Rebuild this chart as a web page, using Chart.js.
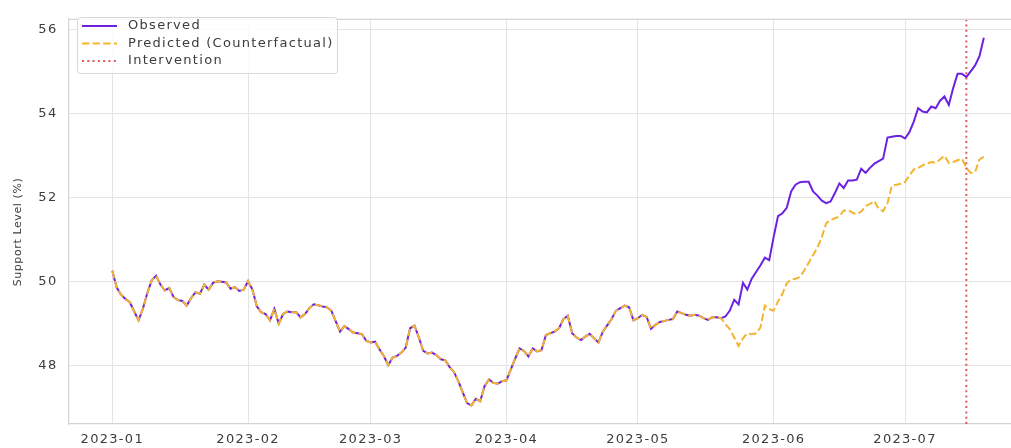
<!DOCTYPE html>
<html>
<head>
<meta charset="utf-8">
<script src="https://cdn.jsdelivr.net/npm/chart.js@4.4.1/dist/chart.umd.min.js"></script>
<style>
  html, body { margin: 0; padding: 0; background: #ffffff; overflow: hidden; }
  #wrap { width: 1011px; height: 448px; }
</style>
</head>
<body>
<div id="wrap"><canvas id="chart" width="1011" height="448"></canvas></div>
<script>
// Daily support level, 2023-01-01 .. 2023-07-19 (day 0 = 2023-01-01)
const observed = [
  50.25, 49.85, 49.68, 49.58, 49.50, 49.28, 49.07, 49.35, 49.72, 50.02,
  50.13, 49.92, 49.78, 49.84, 49.62, 49.55, 49.53, 49.42, 49.60, 49.74,
  49.70, 49.92, 49.80, 49.96, 50.00, 49.99, 49.97, 49.82, 49.86, 49.77,
  49.80, 50.00, 49.80, 49.40, 49.26, 49.22, 49.07, 49.34, 48.99, 49.22,
  49.28, 49.26, 49.26, 49.14, 49.22, 49.36, 49.45, 49.43, 49.40, 49.38,
  49.30, 49.05, 48.80, 48.93, 48.86, 48.78, 48.76, 48.74, 48.58, 48.54,
  48.56, 48.38, 48.22, 48.00, 48.18, 48.22, 48.30, 48.42, 48.88, 48.94,
  48.66, 48.34, 48.28, 48.30, 48.24, 48.14, 48.12, 47.96, 47.84, 47.62,
  47.36, 47.10, 47.04, 47.20, 47.14, 47.50, 47.66, 47.58, 47.56, 47.62,
  47.64, 47.90, 48.16, 48.40, 48.34, 48.21, 48.40, 48.33, 48.36, 48.72,
  48.76, 48.80, 48.88, 49.10, 49.18, 48.76, 48.66, 48.60, 48.68, 48.75,
  48.64, 48.54, 48.80, 48.95, 49.10, 49.30, 49.36, 49.42, 49.38, 49.07,
  49.12, 49.20, 49.15, 48.87, 48.96, 49.03, 49.05, 49.08, 49.10, 49.28,
  49.24, 49.20, 49.18, 49.20, 49.18, 49.12, 49.08, 49.14, 49.14, 49.12,
  49.16, 49.30, 49.56, 49.45, 49.96, 49.80, 50.06, 50.22, 50.38, 50.56,
  50.50, 51.05, 51.55, 51.62, 51.75, 52.14, 52.30, 52.36, 52.37, 52.37,
  52.14, 52.04, 51.92, 51.86, 51.90, 52.10, 52.33, 52.22, 52.40, 52.40,
  52.42, 52.68, 52.58, 52.70, 52.80, 52.86, 52.92, 53.42, 53.44, 53.46,
  53.46, 53.40, 53.55, 53.80, 54.12, 54.04, 54.02, 54.16, 54.12, 54.30,
  54.40, 54.20, 54.60, 54.94, 54.94, 54.86, 55.00, 55.14, 55.36, 55.80
];

const predicted = [
  50.25, 49.85, 49.68, 49.58, 49.50, 49.28, 49.07, 49.35, 49.72, 50.02,
  50.13, 49.92, 49.78, 49.84, 49.62, 49.55, 49.53, 49.42, 49.60, 49.74,
  49.70, 49.92, 49.80, 49.96, 50.00, 49.99, 49.97, 49.82, 49.86, 49.77,
  49.80, 50.00, 49.80, 49.40, 49.26, 49.22, 49.07, 49.34, 48.99, 49.22,
  49.28, 49.26, 49.26, 49.14, 49.22, 49.36, 49.45, 49.43, 49.40, 49.38,
  49.30, 49.05, 48.80, 48.93, 48.86, 48.78, 48.76, 48.74, 48.58, 48.54,
  48.56, 48.38, 48.22, 48.00, 48.18, 48.22, 48.30, 48.42, 48.88, 48.94,
  48.66, 48.34, 48.28, 48.30, 48.24, 48.14, 48.12, 47.96, 47.84, 47.62,
  47.36, 47.10, 47.04, 47.20, 47.14, 47.50, 47.66, 47.58, 47.56, 47.62,
  47.64, 47.90, 48.16, 48.40, 48.34, 48.21, 48.40, 48.33, 48.36, 48.72,
  48.76, 48.80, 48.88, 49.10, 49.18, 48.76, 48.66, 48.60, 48.68, 48.75,
  48.64, 48.54, 48.80, 48.95, 49.10, 49.30, 49.36, 49.42, 49.38, 49.07,
  49.12, 49.20, 49.15, 48.87, 48.96, 49.03, 49.05, 49.08, 49.10, 49.28,
  49.24, 49.20, 49.18, 49.20, 49.18, 49.12, 49.08, 49.14, 49.14, 49.12,
  48.98, 48.86, 48.66, 48.46, 48.64, 48.76, 48.74, 48.76, 48.90, 49.42,
  49.34, 49.30, 49.52, 49.70, 49.95, 50.04, 50.06, 50.10, 50.26, 50.44,
  50.62, 50.80, 51.05, 51.38, 51.46, 51.50, 51.54, 51.68, 51.70, 51.63,
  51.60, 51.66, 51.79, 51.84, 51.91, 51.72, 51.67, 51.86, 52.28, 52.30,
  52.32, 52.36, 52.52, 52.66, 52.70, 52.76, 52.80, 52.84, 52.82, 52.90,
  52.99, 52.82, 52.84, 52.88, 52.92, 52.70, 52.58, 52.60, 52.90, 52.96
];

// Month tick positions (days since 2023-01-01) and their labels
const monthDays   = [0, 31, 59, 90, 120, 151, 181];
const monthLabels = ['2023-01', '2023-02', '2023-03', '2023-04', '2023-05', '2023-06', '2023-07'];
const yTicks      = [48, 50, 52, 54, 56];
const interventionDay = 195; // 2023-07-15
const yTitle = 'Support Level (%)';

const X_MIN = -10, X_MAX = 205.2;
const Y_MIN = 46.6, Y_MAX = 56.25;

const FONT = "'DejaVu Sans', sans-serif";
const TEXT_COLOR = '#3c3c3c';
const GRID_COLOR = '#e4e4e4';
const SPINE_COLOR = '#d4d4d4';

const toPoints = arr => arr.map((v, i) => ({ x: i, y: v }));

// Frame, axis title, letter spacing and the in-plot legend
const decorations = {
  id: 'decorations',
  beforeDraw(chart) {
    chart.ctx.letterSpacing = '1.3px';
  },
  afterDraw(chart) {
    const { ctx, chartArea: a } = chart;
    ctx.save();
    ctx.strokeStyle = SPINE_COLOR;
    ctx.lineWidth = 1.2;
    ctx.beginPath();
    ctx.moveTo(a.left, a.top + 0.5);
    ctx.lineTo(a.right, a.top + 0.5);
    ctx.stroke();

    // y-axis title
    ctx.save();
    ctx.translate(18, 232);
    ctx.rotate(-Math.PI / 2);
    ctx.fillStyle = TEXT_COLOR;
    ctx.font = `11px ${FONT}`;
    ctx.letterSpacing = '0.6px';
    ctx.textAlign = 'center';
    ctx.textBaseline = 'middle';
    ctx.fillText(yTitle, 0, 0);
    ctx.restore();

    // legend
    const bx = 77, by = 17, bw = 260, bh = 56;
    ctx.fillStyle = 'rgba(255,255,255,0.85)';
    ctx.strokeStyle = '#d8d8d8';
    ctx.lineWidth = 1;
    ctx.beginPath();
    ctx.roundRect(bx + 0.5, by + 0.5, bw, bh, 3);
    ctx.fill();
    ctx.stroke();

    const rows = [26, 43.5, 61];
    chart.data.datasets.forEach((ds, i) => {
      const y = rows[i];
      ctx.strokeStyle = ds.borderColor;
      ctx.lineWidth = ds.borderWidth;
      ctx.setLineDash(ds.borderDash || []);
      ctx.beginPath();
      ctx.moveTo(82, y);
      ctx.lineTo(117, y);
      ctx.stroke();
      ctx.setLineDash([]);
      ctx.fillStyle = TEXT_COLOR;
      ctx.font = `13px ${FONT}`;
      ctx.letterSpacing = '1.3px';
      ctx.textBaseline = 'middle';
      ctx.textAlign = 'left';
      ctx.fillText(ds.label, 128, y);
    });
    ctx.restore();
  }
};

new Chart(document.getElementById('chart'), {
  type: 'line',
  data: {
    datasets: [
      {
        label: 'Observed',
        data: toPoints(observed),
        borderColor: '#6c22e2',
        borderWidth: 2,
        order: 2
      },
      {
        label: 'Predicted (Counterfactual)',
        data: toPoints(predicted),
        borderColor: '#f3b530',
        borderWidth: 2,
        borderDash: [7.4, 3.2],
        order: 1
      },
      {
        label: 'Intervention',
        data: [{ x: interventionDay, y: Y_MIN }, { x: interventionDay, y: Y_MAX }],
        borderColor: 'rgba(214,50,50,0.8)',
        borderWidth: 2,
        borderDash: [2, 3.3],
        order: 0
      }
    ]
  },
  options: {
    responsive: false,
    animation: false,
    devicePixelRatio: 1,
    layout: { padding: { top: 10.7, right: 0, bottom: 0, left: 0 } },
    elements: { point: { radius: 0 }, line: { tension: 0 } },
    plugins: {
      legend: { display: false },
      tooltip: { enabled: false }
    },
    scales: {
      x: {
        type: 'linear',
        min: X_MIN,
        max: X_MAX,
        afterFit(scale) { scale.height = 24; },
        afterBuildTicks(scale) { scale.ticks = monthDays.map(v => ({ value: v })); },
        grid: { color: GRID_COLOR, lineWidth: 1, drawTicks: false },
        border: { color: SPINE_COLOR, width: 1.2 },
        ticks: {
          padding: 8,
          maxRotation: 0,
          autoSkip: false,
          color: TEXT_COLOR,
          font: { family: FONT, size: 13 },
          callback: v => monthLabels[monthDays.indexOf(v)]
        }
      },
      y: {
        min: Y_MIN,
        max: Y_MAX,
        afterFit(scale) { scale.width = 68.5; },
        afterBuildTicks(scale) { scale.ticks = yTicks.map(v => ({ value: v })); },
        grid: { color: GRID_COLOR, lineWidth: 1, drawTicks: false },
        border: { color: SPINE_COLOR, width: 1.2 },
        ticks: {
          padding: 11,
          color: TEXT_COLOR,
          font: { family: FONT, size: 13 },
          callback: v => String(v)
        }
      }
    }
  },
  plugins: [decorations]
});
</script>
</body>
</html>
